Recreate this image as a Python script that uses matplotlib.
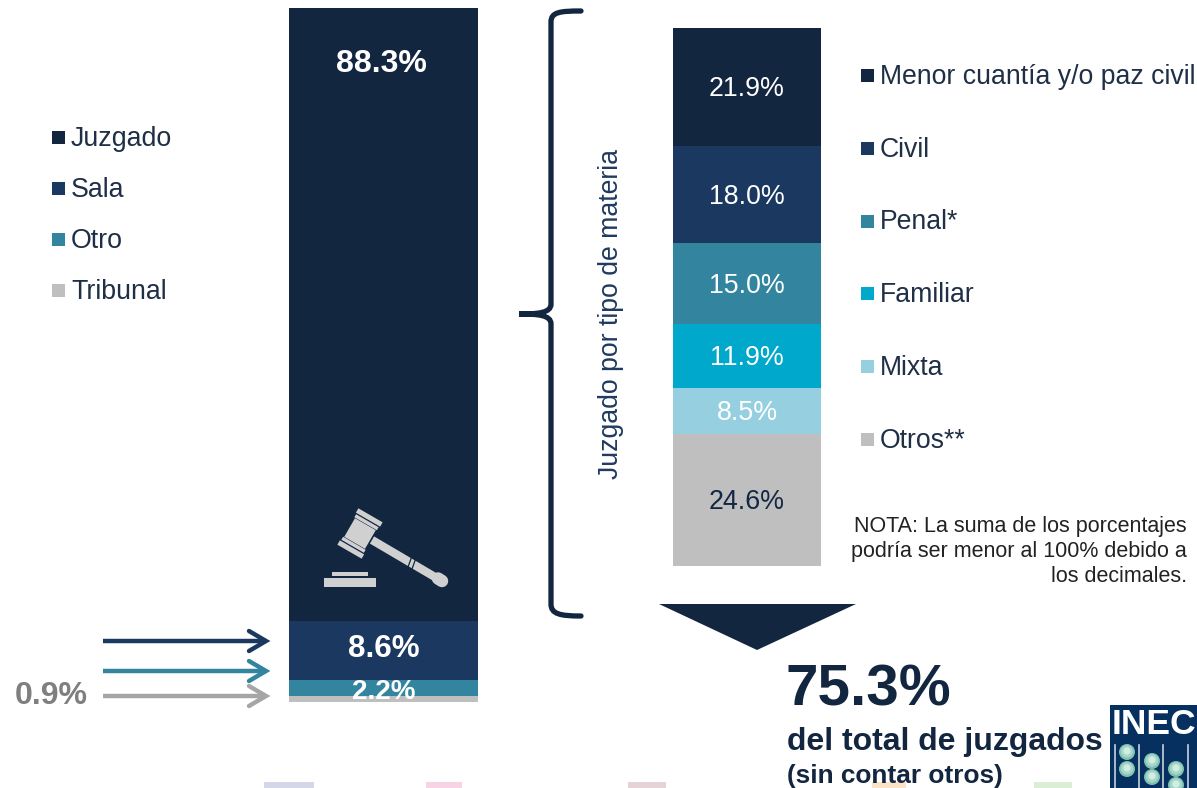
import matplotlib
matplotlib.use("Agg")
import matplotlib.pyplot as plt
from matplotlib.patches import Polygon, Rectangle, Circle, PathPatch
from matplotlib.path import Path
from matplotlib.transforms import Affine2D

# Values.
main_labels = ["Juzgado", "Sala", "Otro", "Tribunal"]
main_values = [88.3, 8.6, 2.2, 0.9]
main_colors = ["#122640", "#1a3860", "#33859f", "#bfbfbf"]
sub_labels = ["Menor cuantía y/o paz civil", "Civil", "Penal*", "Familiar", "Mixta", "Otros**"]
sub_values = [21.9, 18.0, 15.0, 11.9, 8.5, 24.6]
sub_colors = ["#122640", "#1a3860", "#33859f", "#00a9cc", "#95cfe0", "#bfbfbf"]
W, H = 1197, 788
NAVY = "#122640"

plt.rcParams["font.family"] = ["Liberation Sans", "DejaVu Sans"]
fig = plt.figure(figsize=(W / 100, H / 100), dpi=100)


def px_axes(x0, y0, x1, y1):
    a = fig.add_axes([x0 / W, 1 - y1 / H, (x1 - x0) / W, (y1 - y0) / H])
    a.axis("off")
    return a


def stack(a, values, colors, total):
    bottom = 0
    for v, c in zip(values, colors):
        a.bar(0, v, bottom=bottom, width=1, color=c, linewidth=0)
        bottom += v
    a.set_xlim(-0.5, 0.5)
    a.set_ylim(total, 0)


# Main stacked bar.
ax1 = px_axes(289, 8, 478, 702)
stack(ax1, main_values, main_colors, sum(main_values))
ax1.text(-0.01, 8.0, "88.3%", color="white", fontsize=23, weight="bold", ha="center", va="center")
ax1.text(0, main_values[0] + main_values[1] / 2 - 0.3, "8.6%", color="white", fontsize=22.6, weight="bold", ha="center", va="center")
ax1.text(0, 98.55, "2.2%", color="white", fontsize=20, weight="bold", ha="center", va="center")

# Breakdown bar.
ax2 = px_axes(673, 28, 821, 566)
stack(ax2, sub_values, sub_colors, sum(sub_values))
bottom = 0
for v in sub_values:
    ax2.text(0, bottom + v / 2 + 0.45, "%.1f%%" % v, color="#132843" if v == 24.6 else "white",
             fontsize=19.3, ha="center", va="center")
    bottom += v

# Everything else sits on an overlay in pixel coordinates.
ov = px_axes(0, 0, W, H)
ov.set_xlim(0, W)
ov.set_ylim(H, 0)
ov.patch.set_alpha(0)

# Legends.
for i, (lab, col) in enumerate(zip(main_labels, main_colors)):
    y = 137.5 + i * 51
    ov.add_patch(Rectangle((52, y - 6.5), 13, 13, color=col, lw=0))
    ov.text(71, y + 1.2, lab, fontsize=19.3, color="#1f2f46", va="center")
for i, (lab, col) in enumerate(zip(sub_labels, sub_colors)):
    y = 75.5 + i * 72.8
    ov.add_patch(Rectangle((861, y - 6.5), 13, 13, color=col, lw=0))
    ov.text(880, y + 1.2, lab, fontsize=19.2, color="#1f2f46", va="center")

# Arrows on the left.
for y, col in [(641, "#1a3860"), (671, "#33859f"), (696, "#a6a6a6")]:
    ov.plot([103, 266], [y, y], color=col, lw=3.2, solid_capstyle="butt")
    ov.plot([249, 266, 249], [y - 10, y, y + 10], color=col, lw=3.2, solid_capstyle="round", solid_joinstyle="miter")
ov.text(51, 696.5, "0.9%", color="#7f7f7f", fontsize=23, weight="bold", ha="center", va="center")

# Curly bracket.
brace = Path(
    [(581, 11), (560, 11), (551, 12), (551, 22), (551, 200), (551, 300), (551, 304), (551, 313), (538, 314), (519, 314),
     (538, 314), (551, 315), (551, 324), (551, 400), (551, 500), (551, 604), (551, 614), (560, 616), (581, 616)],
    [Path.MOVETO, Path.CURVE4, Path.CURVE4, Path.CURVE4, Path.LINETO, Path.LINETO, Path.LINETO, Path.CURVE4, Path.CURVE4, Path.CURVE4,
     Path.CURVE4, Path.CURVE4, Path.CURVE4, Path.LINETO, Path.LINETO, Path.LINETO, Path.CURVE4, Path.CURVE4, Path.CURVE4])
ov.add_patch(PathPatch(brace, fill=False, ec=NAVY, lw=3.8, capstyle="round"))
ov.text(611, 314, "Juzgado por tipo de materia", rotation=90, fontsize=19.2, color="#1f3a60", ha="center", va="center")

# Note.
for y, line in [(526.5, "NOTA: La suma de los porcentajes"), (551.5, "podría ser menor al 100% debido a"), (576.5, "los decimales.")]:
    ov.text(1187, y, line, fontsize=15.5, color="#222222", ha="right", va="center")

# Down triangle and headline.
ov.add_patch(Polygon([(659, 604), (856, 604), (757, 650)], color=NAVY, lw=0))
ov.text(786, 691, "75.3%", fontsize=42, weight="bold", color=NAVY, ha="left", va="center")
ov.text(787, 742, "del total de juzgados", fontsize=23, weight="bold", color=NAVY, ha="left", va="center")
ov.text(787, 776, "(sin contar otros)", fontsize=18.9, weight="bold", color=NAVY, ha="left", va="center")

# Gavel icon, head drawn upright then turned.
GAVEL = "#d0d0d0"
cx, cy = 360, 533.5
rot = Affine2D().rotate_deg_around(cx, cy, 30) + ov.transData
for off, w, h in [(-18.5, 28, 5), (-13, 26, 3.5), (0, 24, 21.5), (13, 26, 3.5), (18.5, 28, 5)]:
    ov.add_patch(Rectangle((cx - w / 2, cy + off - h / 2), w, h, color=GAVEL, lw=0, transform=rot))
ov.plot([372, 440], [540, 580], color=GAVEL, lw=6, solid_capstyle="butt")
ov.plot([438, 442], [578.5, 581], color=GAVEL, lw=9, solid_capstyle="round")
ov.plot([412, 408], [556, 567], color=NAVY, lw=0.9)
ov.plot([416, 412], [558, 569], color=NAVY, lw=0.9)
ov.add_patch(Rectangle((332, 571.5), 36, 4.5, color=GAVEL, lw=0))
ov.add_patch(Rectangle((324, 578), 52, 9, color=GAVEL, lw=0))

# INEC logo at the right edge.
ov.add_patch(Rectangle((1110, 705), 90, 83, color="#05305f", lw=0))
ov.text(1112, 725, "INEC", fontsize=25.5, weight="bold", color="white", ha="left", va="center")
for x in [1115, 1139, 1163, 1188]:
    ov.plot([x, x], [745, 788], color="#c9d3de", lw=1.2)
for x, ys in [(1127, (752, 769)), (1152, (761, 777)), (1176, (769, 785))]:
    for y in ys:
        ov.add_patch(Circle((x, y), 8, color="#7fc0b0", lw=0))
        ov.add_patch(Circle((x, y - 0.5), 6.2, color="#a5d6c8", lw=0))
        ov.add_patch(Circle((x, y - 1), 3.6, color="#d3ede5", lw=0))

# Faint remains of a background strip.
for x0, x1, col in [(264, 314, "#d3d7e8"), (426, 462, "#f8d3e5"), (628, 666, "#e6d3d7"), (872, 906, "#fbe3c8"), (1034, 1072, "#d9eed5")]:
    ov.add_patch(Rectangle((x0, 782), x1 - x0, 6, color=col, lw=0, zorder=0))

fig.savefig("out.png", dpi=100)
